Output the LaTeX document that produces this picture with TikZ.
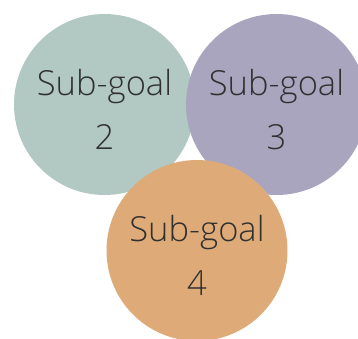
\documentclass[tikz,border=0pt]{standalone}
\usepackage{fontspec}
\setmainfont{Open Sans Light}
\begin{document}
\begin{tikzpicture}[x=1pt,y=-1pt,
  goal/.style={circle, inner sep=0pt, minimum size=181pt, text=ink,
    align=center, text height=89pt, text depth=0pt,
    font=\fontsize{34.5}{54}\selectfont},
  ]
\definecolor{ink}{RGB}{48,48,48}
\definecolor{sage}{RGB}{178,201,195}
\definecolor{lavender}{RGB}{169,165,191}
\definecolor{apricot}{RGB}{222,171,120}
\useasboundingbox (0,0) rectangle (358,338);
\node[goal, fill=sage] (g2) at (104.5,104.5) {Sub-goal\\2};
\node[goal, fill=lavender] (g3) at (276.5,104.5) {Sub-goal\\3};
\node[goal, fill=apricot] (g4) at (197,250.5) {Sub-goal\\4};
\end{tikzpicture}
\end{document}
